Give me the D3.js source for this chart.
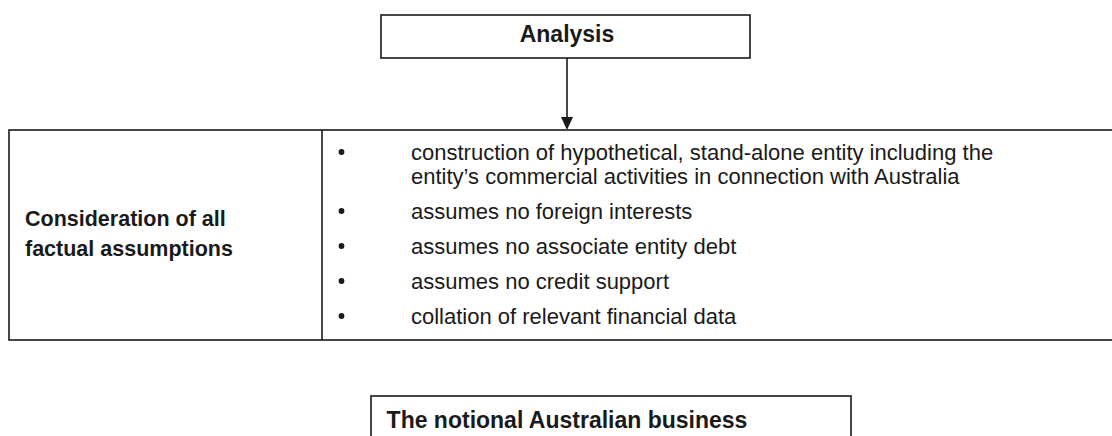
<!DOCTYPE html>
<html>
<head>
<meta charset="utf-8">
<script src="https://cdn.jsdelivr.net/npm/d3@7"></script>
<style>
  html, body { margin: 0; padding: 0; background: #fff; }
  svg text { font-family: "Liberation Sans", Arial, sans-serif; fill: #1a1a1a; }
</style>
</head>
<body>
<div id="container"></div>
<script>
// diagram content
const topHeading = "Analysis";
const bottomHeading = "The notional Australian business";
const rowLabel = ["Consideration of all", "factual assumptions"];
const bulletItems = [
  ["construction of hypothetical, stand-alone entity including the",
   "entity\u2019s commercial activities in connection with Australia"],
  ["assumes no foreign interests"],
  ["assumes no associate entity debt"],
  ["assumes no credit support"],
  ["collation of relevant financial data"]
];

const W = 1112, H = 436;
const ink = "#1a1a1a";
const bodySize = 22, headSize = 23, labelSize = 21.5;

const svg = d3.select("#container")
  .append("svg")
  .attr("width", W)
  .attr("height", H);

// frame geometry
const topBox = {x: 381, y: 15, w: 369, h: 43};
const table = {x: 9, y: 130, w: 1110, h: 210, split: 322};
const lowBox = {x: 371, y: 396, w: 480, h: 60};
const arrowX = 567;

// top box
svg.append("rect")
  .attr("x", topBox.x).attr("y", topBox.y)
  .attr("width", topBox.w).attr("height", topBox.h)
  .attr("fill", "none").attr("stroke", ink).attr("stroke-width", 1.6);

svg.append("text")
  .attr("x", arrowX)
  .attr("y", topBox.y + 27)
  .attr("text-anchor", "middle")
  .style("font-weight", "bold")
  .style("font-size", headSize + "px")
  .text(topHeading);

// arrow down to the table
svg.append("line")
  .attr("x1", arrowX).attr("x2", arrowX)
  .attr("y1", topBox.y + topBox.h).attr("y2", table.y - 11)
  .attr("stroke", ink).attr("stroke-width", 1.6);

svg.append("path")
  .attr("d", d3.line()([[arrowX - 6, table.y - 13], [arrowX + 6, table.y - 13], [arrowX, table.y]]) + "Z")
  .attr("fill", ink);

// table
svg.append("rect")
  .attr("x", table.x).attr("y", table.y)
  .attr("width", table.w).attr("height", table.h)
  .attr("fill", "none").attr("stroke", ink).attr("stroke-width", 1.6);

svg.append("line")
  .attr("x1", table.split).attr("x2", table.split)
  .attr("y1", table.y).attr("y2", table.y + table.h)
  .attr("stroke", ink).attr("stroke-width", 1.6);

// left label
const labelY = d3.scaleLinear()
  .domain([0, rowLabel.length - 1])
  .range([219, 249]);

svg.append("g").selectAll("text")
  .data(rowLabel)
  .join("text")
  .attr("x", 25)
  .attr("y", (d, i) => labelY(i))
  .attr("dominant-baseline", "central")
  .style("font-weight", "bold")
  .style("font-size", labelSize + "px")
  .text(d => d);

// bullet list: each wrapped line gets a slot, items get an extra gap
const lineH = 24, itemGap = 11;
let slot = 0;
const lines = [];
bulletItems.forEach((item, i) => {
  item.forEach((t, j) => {
    lines.push({text: t, first: j === 0, pos: slot * lineH + i * itemGap});
    slot++;
  });
});

const listY = d3.scaleLinear()
  .domain([0, 100])
  .range([152, 252]);

const g = svg.append("g");
g.selectAll("text.item")
  .data(lines)
  .join("text")
  .attr("class", "item")
  .attr("x", 411)
  .attr("y", d => listY(d.pos))
  .attr("dominant-baseline", "central")
  .style("font-size", bodySize + "px")
  .text(d => d.text);

g.selectAll("circle")
  .data(lines.filter(d => d.first))
  .join("circle")
  .attr("cx", 341.5)
  .attr("cy", d => listY(d.pos))
  .attr("r", 2.9)
  .attr("fill", ink);

// lower box, cut off by the page edge
svg.append("rect")
  .attr("x", lowBox.x).attr("y", lowBox.y)
  .attr("width", lowBox.w).attr("height", lowBox.h)
  .attr("fill", "none").attr("stroke", ink).attr("stroke-width", 1.6);

svg.append("text")
  .attr("x", arrowX)
  .attr("y", 428)
  .attr("text-anchor", "middle")
  .style("font-weight", "bold")
  .style("font-size", headSize + "px")
  .text(bottomHeading);
</script>
</body>
</html>
